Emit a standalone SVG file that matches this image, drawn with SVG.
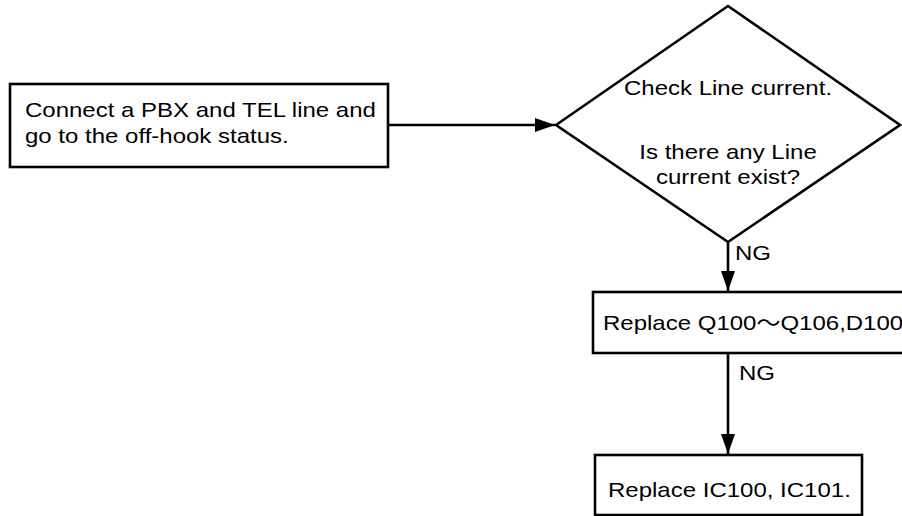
<svg xmlns="http://www.w3.org/2000/svg" width="902" height="516" viewBox="0 0 902 516">
<defs>
<style>
.s{fill:#fff;stroke:#000;stroke-width:2.6}
.l{fill:none;stroke:#000;stroke-width:2.6}
text{font-family:"Liberation Sans","Noto Sans CJK JP",Arial,sans-serif;font-size:21px;fill:#000}
.c{text-anchor:middle}
</style>
<marker id="ah" markerWidth="20" markerHeight="14" viewBox="0 0 20 14" refX="20" refY="7" markerUnits="userSpaceOnUse" orient="auto">
<path d="M0,0 L20,7 L0,14 Z" fill="#000"/>
</marker>
</defs>
<rect width="902" height="516" fill="#fff"/>
<g id="connectors">
<line class="l" x1="388" y1="125" x2="555" y2="125" marker-end="url(#ah)"/>
<line class="l" x1="728" y1="242" x2="728" y2="291" marker-end="url(#ah)"/>
<line class="l" x1="728" y1="353" x2="728" y2="454" marker-end="url(#ah)"/>
<text transform="translate(735,260) scale(1.143,1)">NG</text>
<text transform="translate(739,380) scale(1.143,1)">NG</text>
</g>
<g id="start">
<rect class="s" x="10" y="84" width="378" height="83"/>
<text transform="translate(25,117) scale(1.143,1)">Connect a PBX and TEL line and</text>
<text transform="translate(25,143) scale(1.143,1)">go to the off-hook status.</text>
</g>
<g id="check">
<polygon class="s" points="556,125 728,6 900,125 728,242"/>
<text class="c" transform="translate(728,95) scale(1.143,1)">Check Line current.</text>
<text class="c" transform="translate(728,159) scale(1.143,1)">Is there any Line</text>
<text class="c" transform="translate(728,184) scale(1.143,1)">current exist?</text>
</g>
<g id="replaceQ">
<rect class="s" x="593" y="292" width="320" height="61"/>
<text transform="translate(603,330) scale(1.143,1)">Replace Q100～Q106,D100</text>
</g>
<g id="replaceIC">
<rect class="s" x="595" y="455" width="267" height="60"/>
<text transform="translate(608,497) scale(1.143,1)">Replace IC100, IC101.</text>
</g>
</svg>
